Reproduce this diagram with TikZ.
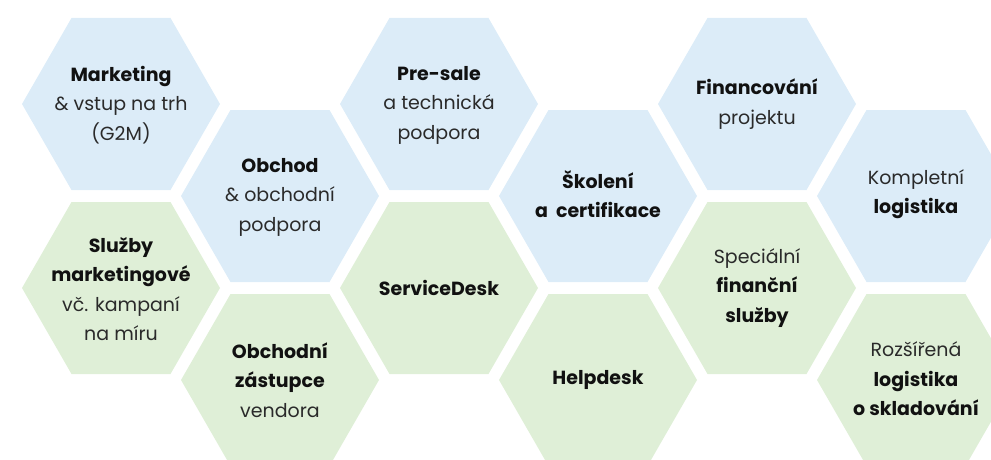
\documentclass[tikz,border=0pt]{standalone}
\usepackage{fontspec}
\setmainfont{Poppins}
\definecolor{hexblue}{HTML}{DCECF8}
\definecolor{hexgreen}{HTML}{DFEFD7}
\definecolor{txtgray}{HTML}{2A2A2A}
\definecolor{txtdark}{HTML}{111111}
\newcommand{\bt}[1]{{\bfseries\color{txtdark}#1}}
\begin{document}
\begin{tikzpicture}[x=1pt,y=-1pt,
  hexpath/.style={insert path={++(-99,0) -- ++(49.5,-86) -- ++(99,0) -- ++(49.5,86) -- ++(-49.5,86) -- ++(-99,0) -- cycle}},
  bluehex/.style={fill=hexblue},
  greenhex/.style={fill=hexgreen},
  txt/.style={align=center, text=txtgray, inner sep=0pt, font=\fontsize{19}{29.5}\selectfont}
]
\useasboundingbox (0,0) rectangle (991,460);
\begin{scope}
\clip (0,0) rectangle (991,460);
% blue cells
\path[bluehex] (121,104) [hexpath];
\path[bluehex] (280,196) [hexpath];
\path[bluehex] (439,104) [hexpath];
\path[bluehex] (598,196) [hexpath];
\path[bluehex] (757,104) [hexpath];
\path[bluehex] (916,196) [hexpath];
% green cells
\path[greenhex] (121,288) [hexpath];
\path[greenhex] (280,380) [hexpath];
\path[greenhex] (439,288) [hexpath];
\path[greenhex] (598,380) [hexpath];
\path[greenhex] (757,288) [hexpath];
\path[greenhex] (916,380) [hexpath];
\end{scope}
% texts
\node[txt] (mkt) at (121,105) {\bt{Marketing}\\\& vstup na trh\\(G2M)};
\node[txt] (obch) at (280,197) {\bt{Obchod}\\\& obchodní\\podpora};
\node[txt] (pre) at (439,105) {\bt{Pre-sale}\\a technická\\podpora};
\node[txt] (skol) at (598,194) {\bt{Školení}\\\bt{a\ \ certifikace}};
\node[txt] (fin) at (757,104) {\bt{Financování}\\projektu};
\node[txt] (komp) at (916,194) {Kompletní\\\bt{logistika}};
\node[txt] (sluz) at (121,289) {\bt{Služby}\\\bt{marketingové}\\vč. kampaní\\na míru};
\node[txt] (zast) at (280,380) {\bt{Obchodní}\\\bt{zástupce}\\vendora};
\node[txt] (sd) at (439,288) {\bt{ServiceDesk}};
\node[txt] (help) at (598,380) {\bt{Helpdesk}};
\node[txt] (spec) at (757,288) {Speciální\\\bt{finanční}\\\bt{služby}};
\node[txt] (rozs) at (916,379) {Rozšířená\\\bt{logistika}\\\bt{o skladování}};
\end{tikzpicture}
\end{document}
